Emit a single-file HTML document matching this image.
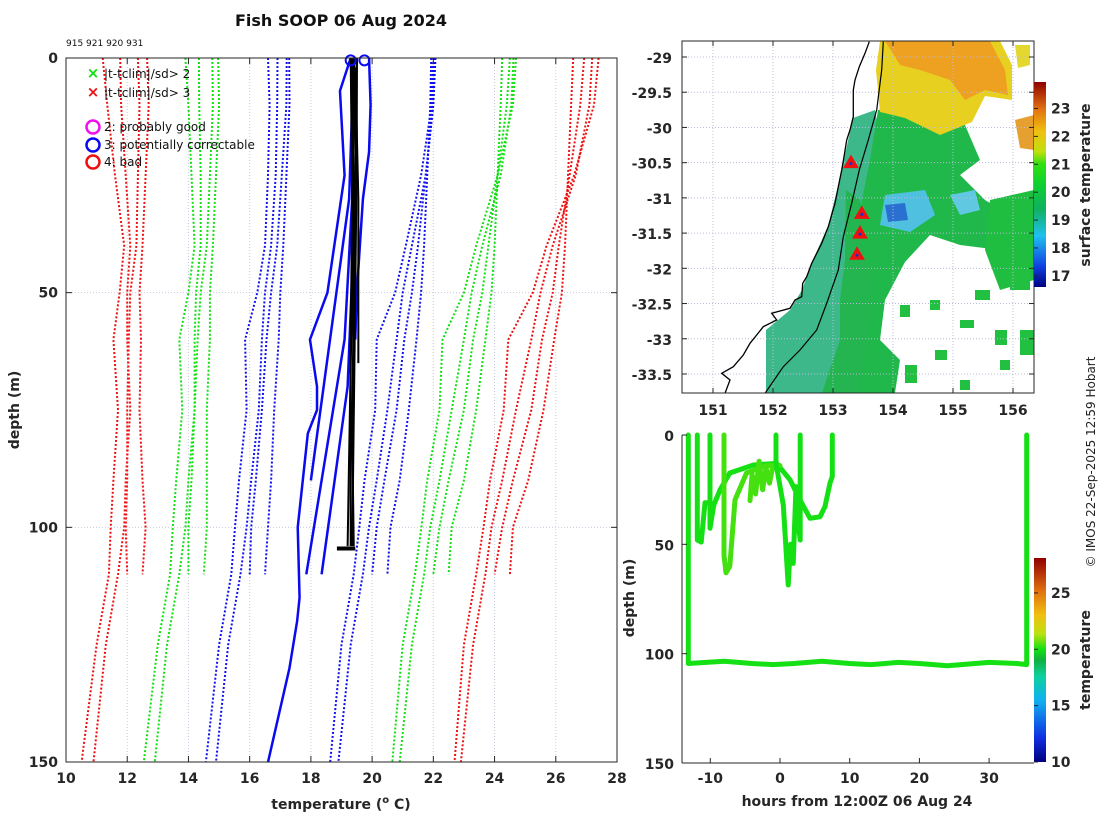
<!DOCTYPE html>
<html><head><meta charset="utf-8"><style>
html,body{margin:0;padding:0;background:#fff;}
svg{display:block;font-family:"DejaVu Sans","Liberation Sans",sans-serif;}
.tk{font-size:14px;font-weight:bold;fill:#262626;}
</style></head><body>
<svg id="svg" width="1100" height="820" viewBox="0 0 1100 820" xmlns="http://www.w3.org/2000/svg">
<defs>
<linearGradient id="jet1" x1="0" y1="1" x2="0" y2="0">
<stop offset="0" stop-color="#00007f"/><stop offset="0.1" stop-color="#1040e0"/><stop offset="0.25" stop-color="#20c0f0"/><stop offset="0.38" stop-color="#10b060"/><stop offset="0.5" stop-color="#10d030"/><stop offset="0.6" stop-color="#30e010"/><stop offset="0.66" stop-color="#c0e010"/><stop offset="0.76" stop-color="#f0c010"/><stop offset="0.87" stop-color="#e07010"/><stop offset="1" stop-color="#900000"/>
</linearGradient>
<linearGradient id="jet2" x1="0" y1="1" x2="0" y2="0">
<stop offset="0" stop-color="#00007f"/><stop offset="0.12" stop-color="#1030e0"/><stop offset="0.3" stop-color="#10b0f0"/><stop offset="0.42" stop-color="#10d0a0"/><stop offset="0.5" stop-color="#10b040"/><stop offset="0.55" stop-color="#10e010"/><stop offset="0.63" stop-color="#c0e010"/><stop offset="0.72" stop-color="#f0c010"/><stop offset="0.84" stop-color="#e07010"/><stop offset="1" stop-color="#900000"/>
</linearGradient>
</defs>

<text x="341" y="26" text-anchor="middle" font-size="16" font-weight="bold" fill="#111">Fish SOOP 06 Aug 2024</text>
<text x="66" y="46" font-size="9" fill="#111">915 921 920 931</text>

<g id="main"></g>
<g id="map"></g>
<g id="ts"></g>

<text transform="translate(1095,462) rotate(-90)" text-anchor="middle" font-size="12" fill="#222">© IMOS 22-Sep-2025 12:59 Hobart</text>
</svg>
<script>
const NS="http://www.w3.org/2000/svg";
function el(parent,tag,attrs,text){const e=document.createElementNS(NS,tag);for(const k in attrs)e.setAttribute(k,attrs[k]);if(text!==undefined)e.textContent=text;parent.appendChild(e);return e;}

// ---------- main profile data ----------
const depthLevels=[0,10,25,40,50,60,75,90,100,110,125,150];
const s1Mean=[19.3,19.3,19.1,18.8,18.5,18.0,18.0,17.7,17.55,17.4,17.0,16.6];
const s1Sd=[2.7,2.65,2.5,2.3,2.25,2.15,2.1,2.05,2.03,2.0,2.0,2.03];
const s2Mean=[19.48,19.45,19.3,19.0,18.75,18.6,18.4,18.1,17.9,17.7,17.3,16.9];
const s2Sd=[2.57,2.55,2.45,2.3,2.25,2.2,2.1,2.05,2.0,2.0,2.0,2.0];
const s3Mean=[19.64,19.6,19.4,19.2,19.0,18.8,18.6,18.3,18.1,18.0];
const s3Sd=[2.43,2.4,2.35,2.3,2.3,2.25,2.2,2.1,2.05,2.0];
const s4Mean=[19.61,19.6,19.5,19.4,19.3,19.2,19.0,18.8,18.6,18.5];
const s4Sd=[2.32,2.3,2.3,2.3,2.3,2.25,2.2,2.1,2.0,2.0];
const flaggedProfiles=[
 [[0,19.3],[7,18.95],[25,19.1],[50,18.54],[60,17.97],[70,18.2],[75,18.2],[80,17.9],[100,17.57],[115,17.63],[120,17.55],[130,17.3],[150,16.6]],
 [[0,19.4],[30,19.25],[90,18.0]],
 [[0,19.4],[30,19.35],[60,19.1],[110,17.85]],
 [[0,19.5],[30,19.45],[70,19.2],[110,18.35]],
 [[0,19.9],[10,19.95],[20,19.9],[30,19.7],[50,19.5],[60,19.45]]
];
const goodProfiles=[
 [[0,19.3],[30,19.35],[60,19.3],[104,19.3]],
 [[0,19.4],[20,19.45],[50,19.4],[80,19.35],[104,19.4]],
 [[0,19.5],[20,19.5],[50,19.45],[104,19.35]],
 [[0,19.35],[40,19.4],[65,19.3],[104,19.2]],
 [[2,19.45],[30,19.55],[65,19.55]]
];
const qcCircleTemps=[19.3,19.75];
const xTicks=[10,12,14,16,18,20,22,24,26,28];
const yTicks=[0,50,100,150];

const X0=66,X1=617,Y0=58,Y1=762;
const xT=t=>X0+(t-10)*(X1-X0)/18;
const yD=d=>Y0+d*(Y1-Y0)/150;
const main=document.getElementById('main');
xTicks.forEach(t=>{if(t>10&&t<28){const g=el(main,'line',{x1:xT(t),x2:xT(t),y1:Y0,y2:Y1,stroke:'#c8cce0','stroke-width':1,'stroke-dasharray':'1,2'});

}});
yTicks.forEach(d=>{if(d>0&&d<150){const g=el(main,'line',{x1:X0,x2:X1,y1:yD(d),y2:yD(d),stroke:'#c8cce0','stroke-width':1,'stroke-dasharray':'1,2'});

}});
const stations=[[s1Mean,s1Sd],[s2Mean,s2Sd],[s3Mean,s3Sd],[s4Mean,s4Sd]];
const envColors={1:'#1010ee',2:'#10e010',3:'#ee1010'};
stations.forEach(([m,s],si)=>{
 [-3,-2,-1,1,2,3].forEach(k=>{
  const pts=m.map((v,i)=>xT(v+k*s[i]).toFixed(1)+','+yD(depthLevels[i]).toFixed(1)).join(' ');
  const p=el(main,'polyline',{points:pts,fill:'none',stroke:envColors[Math.abs(k)],'stroke-width':2,'stroke-dasharray':'2,2'});
  
  
 });
});
flaggedProfiles.forEach(pr=>{
 const p=el(main,'polyline',{points:pr.map(([d,t])=>xT(t)+','+yD(d)).join(' '),fill:'none',stroke:'#0a0af0','stroke-width':2.5});
 
 
});
goodProfiles.forEach(pr=>{
 const p=el(main,'polyline',{points:pr.map(([d,t])=>xT(t)+','+yD(d)).join(' '),fill:'none',stroke:'#000','stroke-width':2});
 
 
});
const blob=el(main,'line',{x1:xT(18.85),x2:xT(19.45),y1:yD(104.5),y2:yD(104.5),stroke:'#000','stroke-width':4});


qcCircleTemps.forEach(t=>{const c=el(main,'circle',{cx:xT(t),cy:yD(0.5),r:5,fill:'none',stroke:'#0a0af0','stroke-width':2});

});
el(main,'rect',{x:X0,y:Y0,width:X1-X0,height:Y1-Y0,fill:'none',stroke:'#262626','stroke-width':1});
xTicks.forEach(t=>{el(main,'line',{x1:xT(t),x2:xT(t),y1:Y1,y2:Y1-6,stroke:'#262626'});el(main,'line',{x1:xT(t),x2:xT(t),y1:Y0,y2:Y0+6,stroke:'#262626'});
 const l=el(main,'text',{x:xT(t),y:783,'text-anchor':'middle',class:'tk'},String(t));
 
 });
yTicks.forEach(d=>{el(main,'line',{x1:X0,x2:X0+6,y1:yD(d),y2:yD(d),stroke:'#262626'});el(main,'line',{x1:X1,x2:X1-6,y1:yD(d),y2:yD(d),stroke:'#262626'});
 const l=el(main,'text',{x:58,y:yD(d)+5,'text-anchor':'end',class:'tk'},String(d));
 
 });
const xt=el(main,'text',{x:341,y:809,'text-anchor':'middle',class:'tk','font-size':'15'});


xt.innerHTML='temperature (<tspan dy="-6" font-size="10">o</tspan><tspan dy="6"> C)</tspan>';
const yt=el(main,'text',{transform:'translate(19,410) rotate(-90)','text-anchor':'middle',class:'tk','font-size':'15'},'depth (m)');


const lg=el(main,'g',{});


el(lg,'text',{x:93,y:78,'text-anchor':'middle','font-size':'15','font-weight':'bold',fill:'#10e010'},'×');
el(lg,'text',{x:104,y:78,'font-size':'12',fill:'#111'},'|t-tclim|/sd> 2');
el(lg,'text',{x:93,y:97,'text-anchor':'middle','font-size':'15','font-weight':'bold',fill:'#ee1010'},'×');
el(lg,'text',{x:104,y:97,'font-size':'12',fill:'#111'},'|t-tclim|/sd> 3');
[['#ee10ee','2: probably good',127],['#0a0af0','3: potentially correctable',145],['#ee1010','4: bad',162]].forEach(([c,t,y])=>{
 el(lg,'circle',{cx:93,cy:y,r:6.5,fill:'none',stroke:c,'stroke-width':2.5});
 el(lg,'text',{x:104,y:y+4,'font-size':'12',fill:'#111'},t);
});

// ---------- map ----------
const map=document.getElementById('map');
const MX0=682,MX1=1034,MY0=41,MY1=393;
const lonX=lon=>713+(lon-151)*60;
const latY=lat=>57+(-29-lat)*70.44;
const lonTicks=[151,152,153,154,155,156];
const latTicks=[-29,-29.5,-30,-30.5,-31,-31.5,-32,-32.5,-33,-33.5];
const stationLon=[153.3,153.48,153.45,153.4];
const stationLat=[-30.5,-31.22,-31.5,-31.8];
const sstTicks=[17,18,19,20,21,22,23];
const sstMin=16.6,sstMax=23.95;
const cl=el(map,'clipPath',{id:'mapclip'});el(cl,'rect',{x:MX0,y:MY0,width:MX1-MX0,height:MY1-MY0});
const mg=el(map,'g',{'clip-path':'url(#mapclip)'});
function poly(fill,pts,name){const p=el(mg,'polygon',{points:pts,fill:fill});}
poly('#3cb88a','853,118 875,110 880,140 868,180 862,210 860,250 870,290 860,330 850,360 840,393 766,393 766,330 790,310 802,290 812,262 828,226 838,186','coastal-sst-band');
poly('#24b450','846,190 860,200 870,240 880,300 870,340 860,393 822,393 840,340 840,300 845,260','shelf-sst');
poly('#20b84a','878,110 930,105 965,125 980,160 960,175 985,200 1010,215 1000,250 960,245 930,235 905,262 885,300 880,340 900,360 895,393 860,393 868,330 872,280 860,240 862,200 870,160','offshore-sst');
poly('#1fbe40','990,200 1034,190 1034,280 1000,290 985,250','east-sst');
poly('#e8d020','880,41 1000,41 1012,65 1012,100 985,96 972,122 940,135 905,118 880,112 876,70','warm-sst-yellow');
poly('#eea020','885,41 990,41 1005,70 1008,95 985,90 965,100 950,80 920,70 900,65','warm-sst-orange');
poly('#e6a030','1015,120 1034,115 1034,150 1020,148','warm-sst-east');
poly('#e4d830','1015,45 1030,45 1030,65 1018,68','warm-sst-ne');
poly('#50c0e0','885,195 925,190 935,215 910,232 880,225','cool-sst-patch');
poly('#2a70d0','885,205 905,203 908,220 888,222','cold-sst-patch');
poly('#60c8e0','950,195 975,190 980,210 960,215','cool-sst-patch2');
[[975,290,15,10],[1010,270,20,20],[995,330,12,15],[1020,330,14,25],[960,320,14,8],[930,300,10,10],[900,305,10,12],[905,365,12,18],[1000,360,10,10],[935,350,12,10],[960,380,10,10]].forEach(r=>{
 const q=el(mg,'rect',{x:r[0],y:r[1],width:r[2],height:r[3],fill:'#22c040'});
 
 });
const glat=el(mg,'g',{});
lonTicks.forEach(l=>el(glat,'line',{x1:lonX(l),x2:lonX(l),y1:MY0,y2:MY1,stroke:'#b8bcd8','stroke-dasharray':'1,2'}));
latTicks.forEach(l=>el(glat,'line',{x1:MX0,x2:MX1,y1:latY(l),y2:latY(l),stroke:'#b8bcd8','stroke-dasharray':'1,2'}));
const coast=el(mg,'polyline',{points:'869.3,41.7 865,53.3 859.3,66.7 855,80 853.3,90 853.3,116.7 850,130 846.7,140 844,156.7 841.7,170 838.3,186.7 835,203.3 828.3,226.7 821.7,243.3 811.7,263.3 806.7,276.7 802.7,283.3 801.7,296.7 795,300 790,308.3 771.7,313.3 776.7,320 763.3,326.7 756.7,335 750,343.3 743.3,355 733.3,366.7 721.7,373.3 730,380 725,393.3',fill:'none',stroke:'#000','stroke-width':1.3});


const shelf=el(mg,'polyline',{points:'883.3,41.7 881.7,70 876.7,110 868.3,140 859.3,170 851.7,203.3 843.3,236.7 838.3,270 826.7,303.3 816.7,330 800,350 783.3,366.7 765,393.3',fill:'none',stroke:'#000','stroke-width':1.2});


stationLon.forEach((lo,i)=>{const x=lonX(lo),y=latY(stationLat[i]);
 const t=el(map,'polygon',{points:`${x},${y-7} ${x-7},${y+5} ${x+7},${y+5}`,fill:'#f01010',stroke:'#f01010'});
 
 
 el(map,'circle',{cx:x,cy:y+1,r:1.5,fill:'#1030d0'});});
el(map,'rect',{x:MX0,y:MY0,width:MX1-MX0,height:MY1-MY0,fill:'none',stroke:'#262626'});
lonTicks.forEach(l=>{el(map,'line',{x1:lonX(l),x2:lonX(l),y1:MY1,y2:MY1-5,stroke:'#262626'});el(map,'line',{x1:lonX(l),x2:lonX(l),y1:MY0,y2:MY0+5,stroke:'#262626'});
 const t=el(map,'text',{x:lonX(l),y:415,'text-anchor':'middle',class:'tk'},String(l));
 
 });
latTicks.forEach(l=>{el(map,'line',{x1:MX0,x2:MX0+5,y1:latY(l),y2:latY(l),stroke:'#262626'});el(map,'line',{x1:MX1,x2:MX1-5,y1:latY(l),y2:latY(l),stroke:'#262626'});
 const t=el(map,'text',{x:672,y:latY(l)+6,'text-anchor':'end',class:'tk','font-size':'15'},String(l));
 
 });
const CB0=82,CB1=287;
const cbY=v=>CB1-(v-sstMin)/(sstMax-sstMin)*(CB1-CB0);
const cb=el(map,'rect',{x:1034,y:CB0,width:12,height:CB1-CB0,fill:'url(#jet1)'});


sstTicks.forEach(v=>{el(map,'line',{x1:1034,x2:1038,y1:cbY(v),y2:cbY(v),stroke:'#262626'});
 const t=el(map,'text',{x:1051,y:cbY(v)+5,class:'tk'},String(v));
 
 });
const cbt=el(map,'text',{transform:'translate(1090,185) rotate(-90)','text-anchor':'middle',class:'tk','font-size':'14'},'surface temperature');



// ---------- depth-time plot ----------
const ts=document.getElementById('ts');
const TX0=682,TX1=1034,TY0=435,TY1=763;
const hX=h=>780+h*6.97;
const dY=d=>TY0+d*(TY1-TY0)/150;
const hourTicks=[-10,0,10,20,30];
const tsDepthTicks=[0,50,100,150];
const tempTicks=[10,15,20,25];
const tempMin=10,tempMax=28.1;
const traceA=[[-13.15,0],[-13.15,104.5],[-8,103.5],[-4,104.5],[-1,105],[2,104.5],[6,103.5],[10,104.5],[13,105],[17,104],[20,104.5],[24,105.5],[30,104],[34,104.5],[35.4,105],[35.4,0]];
const traceB=[[-11.87,0],[-11.87,48],[-11.3,49],[-10.76,31],[-10.5,31]];
const traceC=[[-10.04,0],[-10.04,42.6],[-9.5,32],[-8.6,25],[-7.2,17.4],[-3.8,13.7],[-0.48,13],[1.43,20.5],[2.87,29.7],[4.3,38.1],[5.74,37.4],[6.46,32.7],[7.17,22],[7.5,19],[7.5,0]];
const traceD=[[-8.03,0],[-8.03,55],[-7.75,63],[-7.2,60],[-6.46,29.7],[-4.8,17.4],[-2,14],[0,14]];
const traceE=[[-4.3,30],[-4,18],[-3.5,27],[-3,12],[-2.5,25],[-2,15],[-1.5,22],[-1,14]];
const traceF=[[-0.57,0],[-0.57,13],[0.48,32],[1.17,68.6],[1.5,50],[1.9,58.7],[2.3,23.6],[2.6,40],[2.9,48],[2.9,0]];
const traceColors=['#14e014','#14e014','#14e014','#44e010','#44e010','#14e014'];
[traceA,traceB,traceC,traceD,traceE,traceF].forEach((tr,i)=>{
 const p=el(ts,'polyline',{points:tr.map(([h,d])=>hX(h).toFixed(1)+','+dY(d).toFixed(1)).join(' '),fill:'none',stroke:traceColors[i],'stroke-width':5,'stroke-linejoin':'round','stroke-linecap':'round'});
 
 
});
el(ts,'line',{x1:TX0,x2:TX0,y1:TY0,y2:TY1,stroke:'#262626'});
el(ts,'line',{x1:TX0,x2:TX1,y1:TY1,y2:TY1,stroke:'#262626'});
hourTicks.forEach(h=>{el(ts,'line',{x1:hX(h),x2:hX(h),y1:TY1,y2:TY1-5,stroke:'#262626'});
 const t=el(ts,'text',{x:hX(h),y:783,'text-anchor':'middle',class:'tk'},String(h));
 
 });
tsDepthTicks.forEach(d=>{el(ts,'line',{x1:TX0,x2:TX0+5,y1:dY(d),y2:dY(d),stroke:'#262626'});
 const t=el(ts,'text',{x:674,y:dY(d)+6,'text-anchor':'end',class:'tk','font-size':'15'},String(d));
 
 });
const tx=el(ts,'text',{x:857,y:806,'text-anchor':'middle',class:'tk','font-size':'15'},'hours from 12:00Z 06 Aug 24');


const ty=el(ts,'text',{transform:'translate(634,598) rotate(-90)','text-anchor':'middle',class:'tk','font-size':'15'},'depth (m)');


const TB0=558,TB1=762;
const tbY=v=>TB1-(v-tempMin)/(tempMax-tempMin)*(TB1-TB0);
const cb2=el(ts,'rect',{x:1034,y:TB0,width:12,height:TB1-TB0,fill:'url(#jet2)'});


tempTicks.forEach(v=>{el(ts,'line',{x1:1034,x2:1038,y1:tbY(v),y2:tbY(v),stroke:'#262626'});
 const t=el(ts,'text',{x:1051,y:tbY(v)+5,class:'tk'},String(v));
 
 });
const tbt=el(ts,'text',{transform:'translate(1090,660) rotate(-90)','text-anchor':'middle',class:'tk','font-size':'14'},'temperature');


</script>
</body></html>
